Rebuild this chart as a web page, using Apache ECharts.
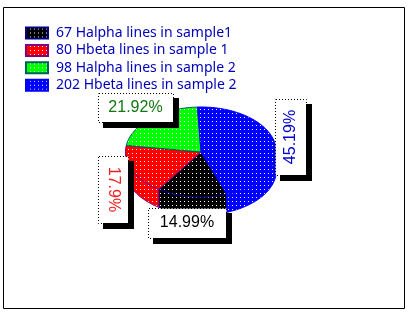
<!DOCTYPE html>
<html><head><meta charset="utf-8">
<style>html,body{margin:0;padding:0;background:#fff}#c{width:412px;height:317px}</style>
<script src="https://cdn.jsdelivr.net/npm/echarts@6/dist/echarts.min.js"></script>
</head><body><div id="c"></div>
<script>
const counts = [67, 80, 98, 202];
const categories = ['Halpha lines in sample1', 'Hbeta lines in sample 1', 'Halpha lines in sample 2', 'Hbeta lines in sample 2'];
const fills = ['#000000', '#ff0000', '#00ff00', '#0000ff'];
const edges = ['#000080', '#800080', '#006060', '#0000ff'];
const labelColors = ['#000000', '#ee2222', '#117711', '#0000cc'];
const labelBoxes = [
  {x:148, y:208, w:78, h:30, rot:0},
  {x:98, y:156, w:30, h:67, rot:-90},
  {x:98, y:93, w:75, h:29, rot:0},
  {x:275, y:99, w:31, h:76, rot:90}
];
const cx = 201, cy = 152, rx = 75.5, ry = 45, depth = 18, startAngle = -70;
const total = counts.reduce((a, b) => a + b, 0);

function pattern(color) {
  const c = document.createElement('canvas');
  c.width = 4; c.height = 4;
  const g = c.getContext('2d');
  g.fillStyle = color; g.fillRect(0, 0, 4, 4);
  g.fillStyle = '#fff'; g.fillRect(0, 1, 1, 1);
  return {image: c, repeat: 'repeat'};
}
const patterns = fills.map(pattern);

function pt(deg, dy) {
  const r = deg * Math.PI / 180;
  return [cx + rx * Math.cos(r), cy - ry * Math.sin(r) + (dy || 0)];
}
function arc(from, to, dy) {
  const n = Math.max(2, Math.ceil(Math.abs(to - from) / 2));
  const out = [];
  for (let i = 0; i <= n; i++) out.push(pt(from + (to - from) * i / n, dy));
  return out;
}
function sliceRange(i) {
  let a = startAngle;
  for (let k = 0; k < i; k++) a -= counts[k] / total * 360;
  return [a, a - counts[i] / total * 360];
}
function walls(a0, a1) {
  const res = [];
  for (let k = -2; k <= 1; k++) {
    const hi = Math.min(a0, 360 * k), lo = Math.max(a1, 360 * k - 180);
    if (hi > lo) res.push([hi, lo]);
  }
  return res;
}
function renderSlice(i) {
  return function () {
    const [a0, a1] = sliceRange(i);
    const style = {fill: patterns[i], stroke: edges[i], lineWidth: 1};
    const children = [];
    walls(a0, a1).forEach(([hi, lo]) => {
      children.push({type: 'polygon', shape: {points: arc(hi, lo, 0).concat(arc(lo, hi, depth))}, style});
    });
    children.push({type: 'polygon', shape: {points: [[cx, cy]].concat(arc(a0, a1, 0))}, style});
    return {type: 'group', children};
  };
}
function renderLabel(params, api) {
  const i = params.dataIndex, b = labelBoxes[i];
  const pct = parseFloat((api.value(0) / total * 100).toFixed(2)) + '%';
  return {type: 'group', children: [
    {type: 'rect', shape: {x: b.x + 0.5, y: b.y + 0.5, width: b.w, height: b.h},
      style: {fill: '#fff', stroke: '#000', lineWidth: 1, lineDash: [1, 2], lineDashOffset: -0.5}},
    {type: 'rect', shape: {x: b.x + b.w, y: b.y + 5, width: 6, height: b.h + 1}, style: {fill: '#000'}},
    {type: 'rect', shape: {x: b.x + 5, y: b.y + b.h, width: b.w + 1, height: 6}, style: {fill: '#000'}},
    {type: 'text', x: b.x + b.w / 2, y: b.y + b.h / 2, rotation: b.rot * Math.PI / 180,
      style: {text: pct, fill: labelColors[i], font: '16px "Liberation Sans"', align: 'center', verticalAlign: 'middle'}}
  ]};
}
const legendNames = categories.map((c, i) => counts[i] + ' ' + c);
const series = counts.map((v, i) => ({
  type: 'custom', name: legendNames[i], coordinateSystem: 'none', animation: false, silent: true,
  itemStyle: {color: patterns[i], borderColor: edges[i], borderWidth: 1},
  renderItem: renderSlice(i), data: [[v]], z: 2
}));
series.push({type: 'custom', name: 'labels', coordinateSystem: 'none', animation: false, silent: true,
  renderItem: renderLabel, data: counts.map(v => [v]), z: 5});

const chart = echarts.init(document.getElementById('c'), null, {renderer: 'canvas'});
chart.setOption({
  animation: false,
  backgroundColor: '#fff',
  graphic: [{type: 'rect', silent: true, z: 0, shape: {x: 3.5, y: 7.5, width: 401, height: 301}, style: {fill: 'none', stroke: '#000', lineWidth: 1}}],
  legend: {
    orient: 'vertical', left: 25, top: 26, padding: 0, itemWidth: 22, itemHeight: 11, itemGap: 3.4, icon: 'rect',
    data: legendNames, selectedMode: false,
    textStyle: {color: '#0000bb', fontFamily: 'Noto Sans', fontSize: 14, padding: [0, 0, 0, 3]}
  },
  series
});
</script></body></html>
